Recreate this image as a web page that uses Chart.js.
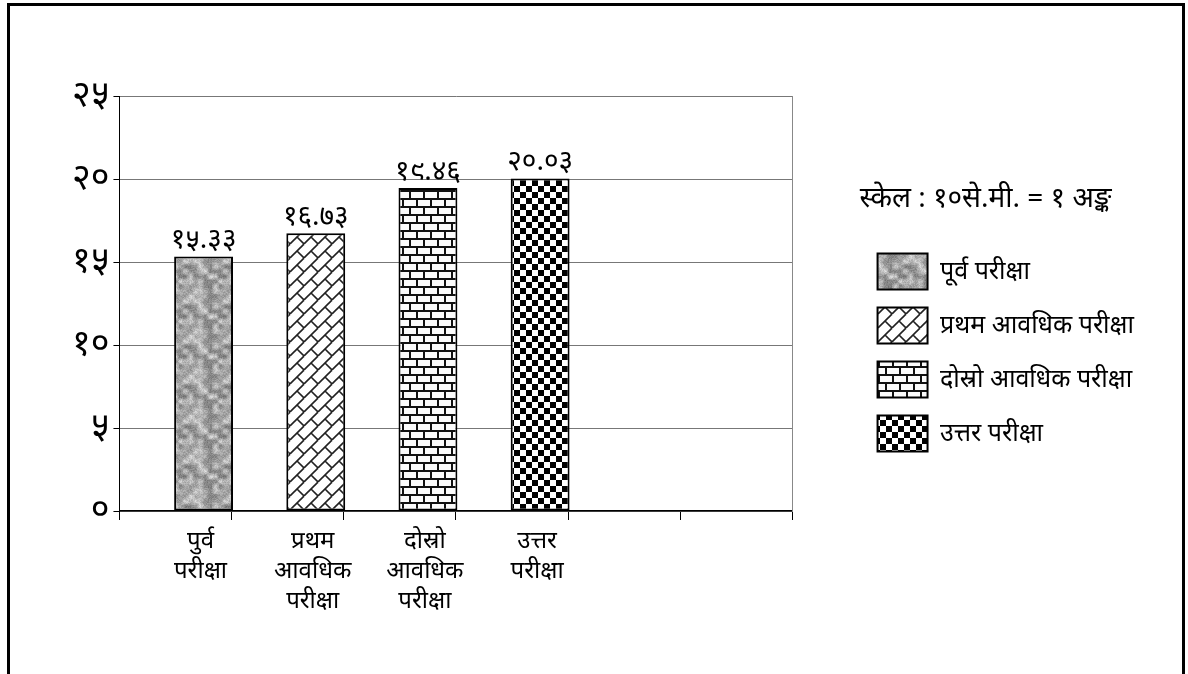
<!DOCTYPE html>
<html lang="ne">
<head>
    <meta charset="UTF-8">
    <title>परीक्षाको अङ्क</title>
    <script src="https://cdn.jsdelivr.net/npm/chart.js"></script>
    <style>
        html, body { margin: 0; padding: 0; background: #fff; overflow: hidden; }
        #frame { position: absolute; left: 7px; top: 3px; width: 1172px; height: 720px; border: 3px solid #000; }
        #wrap { position: relative; width: 1172px; height: 660px; }
    </style>
</head>
<body>
    <div id="frame"><div id="wrap"><canvas id="chart"></canvas></div></div>

    <script>
        // data
        const categories = [['पुर्व', 'परीक्षा'], ['प्रथम', 'आवधिक', 'परीक्षा'], ['दोस्रो', 'आवधिक', 'परीक्षा'], ['उत्तर', 'परीक्षा'], '', ''];
        const seriesNames = ['पूर्व परीक्षा', 'प्रथम आवधिक परीक्षा', 'दोस्रो आवधिक परीक्षा', 'उत्तर परीक्षा'];
        const scores = [15.33, 16.73, 19.46, 20.03];
        const yMin = 0, yMax = 25, yStep = 5;
        const scaleNote = 'स्केल : १०से.मी. = १ अङ्क';

        const devDigits = '०१२३४५६७८९';
        function toDevanagari(s) {
            return String(s).replace(/[0-9]/g, d => devDigits[+d]);
        }

        Chart.defaults.font.family = '"Noto Sans", "DejaVu Sans", sans-serif';
        Chart.defaults.color = '#000';

        // fill patterns (Excel style textures)
        function tile(w, h) {
            const c = document.createElement('canvas');
            c.width = w; c.height = h;
            return c;
        }
        function hash(x, y) {
            const s = Math.sin(x * 12.9898 + y * 78.233) * 43758.5453;
            return s - Math.floor(s);
        }
        function granite() {
            const n = 40, cell = 5, m = n / cell;
            const c = tile(n, n), g = c.getContext('2d');
            const img = g.createImageData(n, n);
            const h = (i, j) => hash(((i % m) + m) % m, ((j % m) + m) % m);
            for (let y = 0; y < n; y++) {
                for (let x = 0; x < n; x++) {
                    const gx = x / cell, gy = y / cell;
                    const x0 = Math.floor(gx), y0 = Math.floor(gy);
                    let fx = gx - x0, fy = gy - y0;
                    fx = fx * fx * (3 - 2 * fx); fy = fy * fy * (3 - 2 * fy);
                    const top = h(x0, y0) * (1 - fx) + h(x0 + 1, y0) * fx;
                    const bot = h(x0, y0 + 1) * (1 - fx) + h(x0 + 1, y0 + 1) * fx;
                    const v = top * (1 - fy) + bot * fy;
                    const gray = Math.round(105 + v * 95 + hash(x + 31, y + 57) * 35);
                    const k = (y * n + x) * 4;
                    img.data[k] = img.data[k + 1] = img.data[k + 2] = gray;
                    img.data[k + 3] = 255;
                }
            }
            g.putImageData(img, 0, 0);
            return g.createPattern(c, 'repeat');
        }
        function diagonalBrick() {
            const t = 14, c = tile(t, t), g = c.getContext('2d');
            g.fillStyle = '#fff'; g.fillRect(0, 0, t, t);
            g.strokeStyle = '#222'; g.lineWidth = 1.6;
            for (let k = 0; k <= 2; k++) {
                g.beginPath(); g.moveTo(k * t - t, t); g.lineTo(k * t, 0); g.stroke();
            }
            for (const [dx, dy] of [[0, 0], [-t, 0], [0, -t], [-t, -t]]) {
                g.beginPath(); g.moveTo(t / 2 + dx, t / 2 + dy); g.lineTo(t + dx, t + dy); g.stroke();
            }
            return g.createPattern(c, 'repeat');
        }
        function horizontalBrick() {
            const w = 14, h = 16, c = tile(w, h), g = c.getContext('2d');
            g.fillStyle = '#fbfbfb'; g.fillRect(0, 0, w, h);
            g.fillStyle = '#111';
            g.fillRect(0, 0, w, 2);
            g.fillRect(0, 8, w, 2);
            g.fillRect(0, 0, 2, 8);
            g.fillRect(7, 8, 2, 8);
            return g.createPattern(c, 'repeat');
        }
        function checker() {
            const s = 6, c = tile(2 * s, 2 * s), g = c.getContext('2d');
            g.fillStyle = '#fff'; g.fillRect(0, 0, 2 * s, 2 * s);
            g.fillStyle = '#000';
            g.fillRect(0, 0, s, s);
            g.fillRect(s, s, s, s);
            return g.createPattern(c, 'repeat');
        }
        const fills = [granite(), diagonalBrick(), horizontalBrick(), checker()];

        // value labels above bars
        const valueLabels = {
            id: 'valueLabels',
            afterDatasetsDraw(chart) {
                const ctx = chart.ctx;
                ctx.save();
                ctx.font = '28px "Noto Sans", "DejaVu Sans", sans-serif';
                ctx.fillStyle = '#000';
                ctx.textAlign = 'center';
                ctx.textBaseline = 'bottom';
                chart.data.datasets.forEach((ds, i) => {
                    if (ds.stack !== 'main') return;
                    chart.getDatasetMeta(i).data.forEach((bar, j) => {
                        const v = ds.data[j];
                        if (v == null) return;
                        ctx.fillText(toDevanagari(v.toFixed(2)), bar.x, bar.y - 2);
                    });
                });
                ctx.restore();
            }
        };

        // empty left slot so each bar sits in the right half of its category
        const datasets = [{
            label: '',
            stack: 'pad',
            data: categories.map(() => null)
        }];
        seriesNames.forEach((name, i) => {
            datasets.push({
                label: name,
                stack: 'main',
                data: categories.map((c, j) => (j === i ? scores[i] : null)),
                backgroundColor: fills[i],
                borderColor: '#000',
                borderWidth: 2,
                borderSkipped: false
            });
        });

        new Chart(document.getElementById('chart'), {
            type: 'bar',
            data: { labels: categories, datasets: datasets },
            options: {
                responsive: true,
                maintainAspectRatio: false,
                animation: false,
                categoryPercentage: 1,
                barPercentage: 1.05,
                layout: { padding: { left: 58, top: 90, right: 38, bottom: 44 } },
                plugins: {
                    legend: {
                        position: 'right',
                        align: 'start',
                        maxWidth: 400,
                        labels: {
                            boxWidth: 50,
                            boxHeight: 36,
                            padding: 18,
                            color: '#000',
                            font: { size: 25 },
                            filter: item => item.datasetIndex > 0
                        },
                        title: {
                            display: true,
                            text: scaleNote,
                            color: '#000',
                            font: { size: 28 },
                            position: 'start',
                            padding: { top: 89, bottom: 17 }
                        }
                    },
                    tooltip: { enabled: false }
                },
                scales: {
                    x: {
                        grid: { offset: true, drawOnChartArea: false, tickLength: 9, color: '#000' },
                        border: { color: '#000', width: 1.5 },
                        ticks: {
                            labelOffset: 25,
                            color: '#000',
                            font: { size: 24, lineHeight: 1.25 },
                            padding: 6,
                            maxRotation: 0,
                            autoSkip: false
                        }
                    },
                    y: {
                        min: yMin,
                        max: yMax,
                        stacked: false,
                        ticks: {
                            stepSize: yStep,
                            callback: v => toDevanagari(v),
                            color: '#000',
                            font: { size: 36 },
                            padding: 4
                        },
                        grid: { color: '#777', tickLength: 6, tickColor: '#000' },
                        border: { color: '#000' }
                    },
                    y2: {
                        position: 'right',
                        min: yMin,
                        max: yMax,
                        grid: { drawOnChartArea: false, drawTicks: false },
                        ticks: { display: false },
                        border: { color: '#888' },
                        afterFit: scale => { scale.width = 67; }
                    }
                }
            },
            plugins: [valueLabels]
        });
    </script>
</body>
</html>
